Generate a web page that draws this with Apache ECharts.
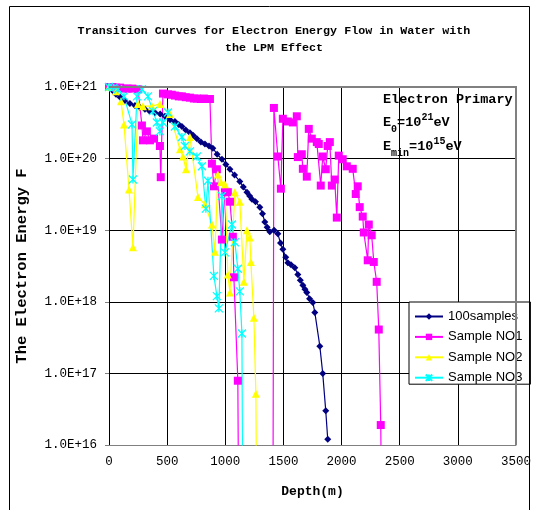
<!DOCTYPE html>
<html>
<head>
<meta charset="utf-8">
<script src="https://cdn.jsdelivr.net/npm/echarts@6/dist/echarts.min.js"></script>
<style>
html,body{margin:0;padding:0;background:#fff;}
#chart{width:534px;height:510px;}
</style>
</head>
<body>
<div id="chart"></div>
<script>
// ---------- data (depth in m, electron energy flow in eV) ----------
var xTicks = [0, 500, 1000, 1500, 2000, 2500, 3000, 3500];
var yTicks = ['1.0E+16', '1.0E+17', '1.0E+18', '1.0E+19', '1.0E+20', '1.0E+21'];
var seriesNames = ['100samples', 'Sample NO1', 'Sample NO2', 'Sample NO3'];

var avgDepth = [0,30,60,95,137,180,223,265,309,350,395,440,481,525,567,600,627,660,696,725,756,790,825,860,893,930,971,1005,1040,1080,1125,1155,1186,1210,1229,1260,1297,1320,1340,1360,1383,1420,1452,1475,1495,1520,1538,1565,1598,1624,1645,1667,1685,1701,1725,1753,1770,1813,1838,1864,1881];
var avgValue = [1.0e21,8.9e20,7.9e20,7.2e20,6.5e20,5.9e20,5.5e20,5.2e20,4.9e20,4.6e20,4.4e20,4.2e20,3.9e20,3.5e20,3.3e20,3.0e20,2.8e20,2.5e20,2.3e20,2.1e20,1.9e20,1.7e20,1.6e20,1.5e20,1.4e20,1.15e20,9.8e19,8.3e19,7.1e19,5.9e19,4.8e19,4.0e19,3.4e19,3.0e19,2.7e19,2.5e19,2.1e19,1.7e19,1.3e19,1.1e19,9.5e18,1.0e19,8.9e18,6.6e18,5.4e18,4.2e18,3.5e18,3.3e18,3.0e18,2.4e18,2.0e18,1.7e18,1.5e18,1.35e18,1.1e18,9.8e17,7.1e17,2.4e17,1.0e17,3.0e16,1.2e16];

var no1Depth = [0,30,60,95,130,160,200,250,283,292,326,352,387,438,445,464,507,540,567,600,627,660,696,730,756,790,816,850,868,885,902,928,971,997,1022,1040,1065,1074,1108,1115,1410,1418,1452,1478,1495,1538,1581,1615,1624,1658,1667,1701,1718,1744,1787,1804,1821,1838,1864,1881,1899,1916,1941,1959,1976,2010,2045,2096,2122,2139,2156,2182,2191,2225,2234,2259,2277,2302,2320,2337,2345];
var no1Value = [1.0e21,1.0e21,9.8e20,9.8e20,9.5e20,9.5e20,9.5e20,9.3e20,2.9e20,1.8e20,2.4e20,1.8e20,1.9e20,1.5e20,5.5e19,8.1e20,7.9e20,7.8e20,7.6e20,7.4e20,7.4e20,7.2e20,7.1e20,6.9e20,6.9e20,6.8e20,6.9e20,6.8e20,6.8e20,8.5e19,4.1e19,7.1e19,7.4e18,3.4e19,3.4e19,2.5e19,8.1e18,2.2e18,7.9e16,1e15,1e15,5.1e20,1.07e20,3.8e19,3.6e20,3.3e20,3.2e20,3.9e20,1.05e20,1.15e20,7.2e19,5.6e19,2.6e20,1.9e20,1.7e20,1.6e20,4.2e19,1.07e20,7.1e19,1.5e20,1.7e20,4.2e19,5.1e19,1.5e19,1.1e20,9.8e19,7.8e19,7.2e19,3.2e19,4.1e19,2.1e19,1.55e19,9.3e18,3.8e18,1.2e19,8.5e18,3.6e18,1.9e18,4.1e17,1.9e16,1e15];

var no2Depth = [0,60,103,129,172,206,249,292,369,438,524,610,636,662,696,765,825,885,911,936,962,997,1022,1040,1082,1125,1160,1186,1211,1220,1246,1263,1270];
var no2Value = [1.0e21,8.7e20,6.3e20,3.0e20,3.7e19,5.8e18,5.8e20,5.4e20,5.4e20,5.8e20,4.2e20,1.35e20,1.07e20,7.1e19,2.0e20,2.9e19,2.3e19,1.2e19,5.0e18,6.0e19,4.7e19,4.4e19,2.4e18,1.35e18,3.4e19,2.5e19,1.9e18,1.0e19,7.9e18,3.6e18,6.0e17,5.2e16,1e15];

var no3Depth = [0,40,77,129,198,206,241,283,335,378,412,438,464,507,567,627,653,696,756,799,833,851,902,928,945,971,997,1057,1082,1108,1125,1143,1150];
var no3Value = [1.0e21,9.8e20,9.3e20,7.4e20,3.0e20,5.1e19,7.4e20,9.3e20,7.4e20,4.6e20,3.2e20,2.4e20,3.2e20,4.4e20,2.8e20,2.0e20,1.5e20,1.26e20,1.07e20,7.8e19,2.0e19,4.9e19,2.3e18,1.2e18,8.1e17,3.0e19,4.9e18,1.2e19,6.8e18,2.9e18,1.4e18,3.6e17,1e15];

function zip(a, b) { return a.map(function (v, i) { return [v, b[i]]; }); }

var chart = echarts.init(document.getElementById('chart'), null, {renderer: 'canvas'});
var mono = '"Liberation Mono", "DejaVu Sans Mono", monospace';

var option = {
  backgroundColor: '#ffffff',
  animation: false,
  title: {
    text: 'Transition Curves for Electron Energy Flow in Water with\nthe LPM Effect',
    left: 269, top: 18, textAlign: 'center',
    textStyle: {fontFamily: mono, fontWeight: 'bold', fontSize: 11.7, lineHeight: 17, color: '#000'}
  },
  grid: {left: 109, right: 18, top: 87, bottom: 65, containLabel: false},
  legend: {
    orient: 'vertical', left: 409, top: 302,
    data: seriesNames,
    itemWidth: 28, itemHeight: 8, itemGap: 7.4,
    padding: [8, 8, 0, 5],
    backgroundColor: '#ffffff', borderColor: '#000', borderWidth: 1, borderRadius: 0,
    textStyle: {fontFamily: '"Liberation Sans", Arial, sans-serif', fontSize: 13, color: '#000'}
  },
  xAxis: {
    type: 'value', min: 0, max: 3500, interval: 500,
    name: 'Depth(m)', nameLocation: 'middle', nameGap: 40,
    nameTextStyle: {fontFamily: mono, fontWeight: 'bold', fontSize: 13, color: '#000'},
    axisLine: {show: true, lineStyle: {color: '#808080', width: 1}},
    axisTick: {show: false},
    axisLabel: {margin: 10, fontFamily: mono, fontSize: 12.5, color: '#000',
      formatter: function (v) { var i = xTicks.indexOf(v); return i >= 0 ? String(xTicks[i]) : ''; }},
    splitLine: {show: true, lineStyle: {color: '#000', width: 1}}
  },
  yAxis: {
    type: 'log', logBase: 10, min: 1e16, max: 1e21,
    name: 'The Electron Energy F', nameLocation: 'middle', nameGap: 79, nameRotate: 90,
    nameTextStyle: {fontFamily: mono, fontWeight: 'bold', fontSize: 15.5, color: '#000'},
    axisLine: {show: true, lineStyle: {color: '#000', width: 1}},
    axisTick: {show: true, inside: false, length: 4, lineStyle: {color: '#808080'}},
    axisLabel: {margin: 12, fontFamily: mono, fontSize: 12.5, color: '#000',
      formatter: function (v) { var e = Math.round(Math.log10(v)); return yTicks[e - 16] || ''; }},
    splitLine: {show: true, lineStyle: {color: '#000', width: 1}}
  },
  graphic: [
    {type: 'rect', shape: {x: 9.5, y: 6.5, width: 520, height: 520}, style: {fill: 'none', stroke: '#000', lineWidth: 1}, z: 100, silent: true},
    {type: 'polyline', shape: {points: [[109, 87], [516, 87], [516, 445]]}, style: {fill: 'none', stroke: '#808080', lineWidth: 2}, z: 100, silent: true},
    {type: 'text', left: 383, top: 93, z: 100,
      style: {text: 'Electron Primary', font: 'bold 13.5px ' + mono, fill: '#000'}},
    {type: 'text', left: 383, top: 112, z: 100,
      style: {
        text: '{b|E}{sub|0}{b|=10}{sup|21}{b|eV}',
        rich: {
          b: {font: 'bold 13.5px ' + mono, fill: '#000', lineHeight: 22, verticalAlign: 'middle'},
          sub: {font: 'bold 10px ' + mono, fill: '#000', verticalAlign: 'bottom', lineHeight: 22},
          sup: {font: 'bold 10px ' + mono, fill: '#000', verticalAlign: 'top', lineHeight: 22}
        }
      }},
    {type: 'text', left: 383, top: 136, z: 100,
      style: {
        text: '{b|E}{sub|min}{b|=10}{sup|15}{b|eV}',
        rich: {
          b: {font: 'bold 13.5px ' + mono, fill: '#000', lineHeight: 22, verticalAlign: 'middle'},
          sub: {font: 'bold 10px ' + mono, fill: '#000', verticalAlign: 'bottom', lineHeight: 22},
          sup: {font: 'bold 10px ' + mono, fill: '#000', verticalAlign: 'top', lineHeight: 22}
        }
      }}
  ],
  series: [
    {name: seriesNames[0], type: 'line', data: zip(avgDepth, avgValue), clip: true,
      symbol: 'diamond', symbolSize: 7, showAllSymbol: true,
      itemStyle: {color: '#000080'}, lineStyle: {color: '#000080', width: 1.2}},
    {name: seriesNames[1], type: 'line', data: zip(no1Depth, no1Value), clip: true,
      symbol: 'rect', symbolSize: 8, showAllSymbol: true,
      itemStyle: {color: '#FF00FF'}, lineStyle: {color: '#FF00FF', width: 1.2}},
    {name: seriesNames[2], type: 'line', data: zip(no2Depth, no2Value), clip: true,
      symbol: 'triangle', symbolSize: 8, showAllSymbol: true,
      itemStyle: {color: '#FFFF00'}, lineStyle: {color: '#FFFF00', width: 1.2}},
    {name: seriesNames[3], type: 'line', data: zip(no3Depth, no3Value), clip: true,
      symbol: 'path://M0,0L10,10M10,0L0,10M5,0L5,10', symbolSize: 8, showAllSymbol: true, symbolKeepAspect: true,
      itemStyle: {color: '#00FFFF', borderColor: '#00FFFF', borderWidth: 1.3}, lineStyle: {color: '#00FFFF', width: 1.2}}
  ]
};
chart.setOption(option);
</script>
</body>
</html>
